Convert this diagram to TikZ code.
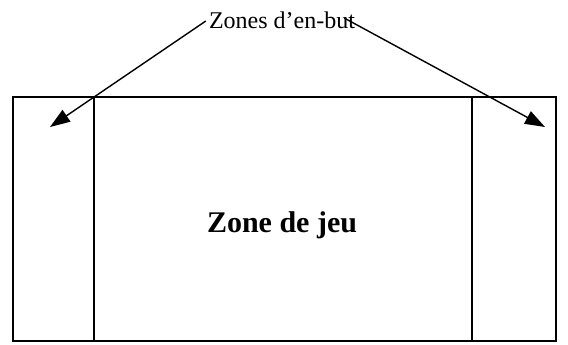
\documentclass[tikz,border=0pt]{standalone}
\usepackage{fontspec}
\setmainfont{Liberation Serif}
\usetikzlibrary{positioning,arrows.meta}
\tikzset{
  field/.style={line width=2pt},
  ptr/.style={line width=1.4pt,-{Triangle[length=20pt,width=14pt]}},
  lab/.style={font=\fontsize{24}{27}\selectfont,inner sep=1pt},
  big/.style={font=\fontsize{30}{34}\selectfont\bfseries,inner sep=0pt}
}
\begin{document}
\begin{tikzpicture}[x=1pt,y=-1pt]
    \useasboundingbox (0,0) rectangle (568,345);
    % terrain
    \coordinate (nw) at (13,97);
    \coordinate (se) at (556,341);
    \draw[field] (nw) rectangle (se);
    \draw[field] (94,97) -- (94,341);
    \draw[field] (472,97) -- (472,341);
    \node[big] (jeu) at (282,225) {Zone de jeu};
    % en-but labels
    \node[lab] (zones) at (282,20) {Zones d’en-but};
    \coordinate (tipL) at (50,127);
    \coordinate (tipR) at (545,127);
    \draw[ptr] ([xshift=-2pt,yshift=-1pt]zones.west) -- (tipL);
    \draw[ptr] ([xshift=-12pt,yshift=2pt]zones.east) -- (tipR);
  \end{tikzpicture}
\end{document}
